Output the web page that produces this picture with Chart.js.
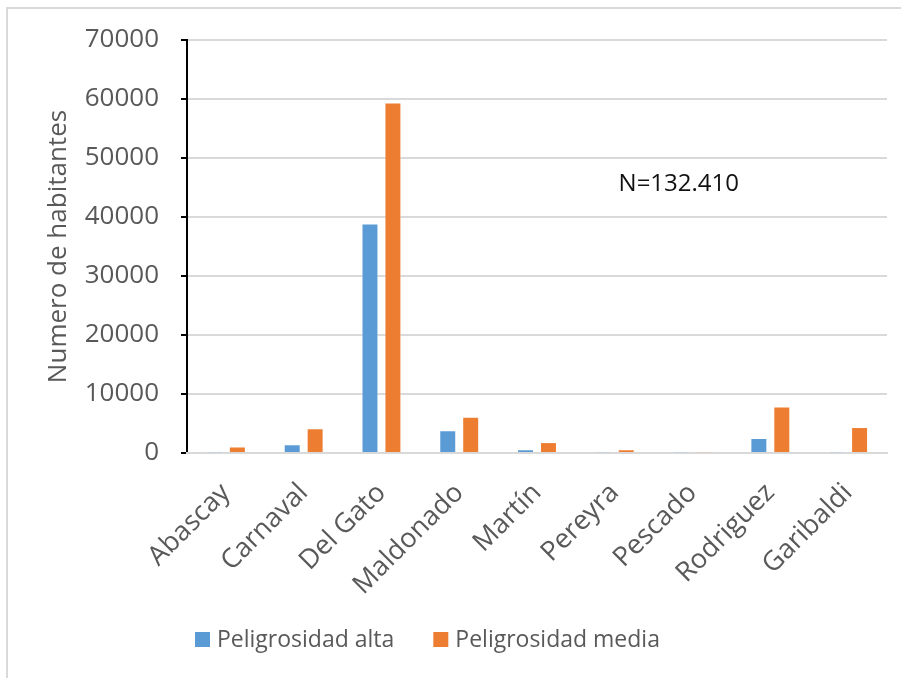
<!DOCTYPE html>
<html>
<head>
<meta charset="utf-8">
<script src="https://cdn.jsdelivr.net/npm/chart.js@4/dist/chart.umd.min.js"></script>
<style>
    html, body { margin: 0; padding: 0; background: #fff; }
    #wrap { position: relative; width: 901px; height: 678px; }
    #frame { position: absolute; left: 6px; top: 7px; right: -2px; bottom: -2px; border-left: 2px solid #d9d9d9; border-top: 2px solid #d9d9d9; }
    canvas { position: absolute; left: 0; top: 0; }
</style>
</head>
<body>
<div id="wrap">
    <div id="frame"></div>
    <canvas id="barrios" width="901" height="678"></canvas>
</div>
<script>
const barrios = ['Abascay', 'Carnaval', 'Del Gato', 'Maldonado', 'Martín', 'Pereyra', 'Pescado', 'Rodriguez', 'Garibaldi'];
const peligrosidadAlta = [60, 1500, 38900, 3850, 630, 70, 50, 2550, 60];
const peligrosidadMedia = [1100, 4200, 59400, 6150, 1850, 630, 50, 7900, 4400];
const yTicks = [0, 10000, 20000, 30000, 40000, 50000, 60000, 70000];
const nota = 'N=132.410';

const fontName = '"Open Sans", sans-serif';
const gris = '#595959';

// texto N=... dentro del area del grafico
const notaPlugin = {
    id: 'nota',
    afterDraw(chart) {
        const ctx = chart.ctx;
        const x = chart.scales.x.getPixelForValue(5) + 64;
        const y = chart.scales.y.getPixelForValue(45600);
        ctx.save();
        ctx.font = '24px ' + fontName;
        ctx.fillStyle = '#111';
        ctx.textAlign = 'center';
        ctx.textBaseline = 'middle';
        ctx.fillText(nota, x, y);
        ctx.restore();
    }
};

// leyenda abajo, como en Excel (cajas chicas y bastante espacio entre items)
const leyendaPlugin = {
    id: 'leyenda',
    afterDraw(chart) {
        const ctx = chart.ctx;
        let x = 195;
        const y = 640;
        ctx.save();
        ctx.font = '23px ' + fontName;
        ctx.textBaseline = 'middle';
        chart.data.datasets.forEach(ds => {
            ctx.fillStyle = ds.backgroundColor;
            ctx.fillRect(x, y - 8, 15, 15);
            x += 22;
            ctx.fillStyle = gris;
            ctx.fillText(ds.label, x, y);
            x += ctx.measureText(ds.label).width + 39;
        });
        ctx.restore();
    }
};

new Chart(document.getElementById('barrios').getContext('2d'), {
    type: 'bar',
    data: {
        labels: barrios,
        datasets: [
            {
                label: 'Peligrosidad alta',
                data: peligrosidadAlta,
                backgroundColor: '#5B9BD5',
                borderColor: 'rgba(255,255,255,0.5)',
                borderWidth: 1,
                categoryPercentage: 0.59,
                barPercentage: 0.74
            },
            {
                label: 'Peligrosidad media',
                data: peligrosidadMedia,
                backgroundColor: '#ED7D31',
                borderColor: 'rgba(255,255,255,0.5)',
                borderWidth: 1,
                categoryPercentage: 0.59,
                barPercentage: 0.74
            }
        ]
    },
    options: {
        responsive: false,
        animation: false,
        layout: {
            padding: { left: 43, right: 14, top: 40, bottom: 62 }
        },
        plugins: {
            tooltip: { enabled: false },
            legend: { display: false }
        },
        scales: {
            y: {
                min: 0,
                max: 70000,
                afterBuildTicks: scale => { scale.ticks = yTicks.map(v => ({ value: v })); },
                afterFit: scale => { scale.width = 144; },
                ticks: {
                    color: gris,
                    font: { family: fontName, size: 26 },
                    padding: 22,
                    callback: v => String(v)
                },
                title: {
                    display: true,
                    text: 'Numero de habitantes',
                    color: gris,
                    font: { family: fontName, size: 26 },
                    padding: 0
                },
                grid: {
                    color: '#d9d9d9',
                    lineWidth: 2,
                    tickColor: '#000',
                    tickLength: 6
                },
                border: { color: '#000', width: 2 }
            },
            x: {
                afterFit: scale => { scale.height = 163; },
                ticks: {
                    color: gris,
                    font: { family: fontName, size: 27 },
                    minRotation: 45,
                    maxRotation: 45,
                    padding: 16
                },
                grid: { display: false },
                border: { color: '#d9d9d9', width: 2 }
            }
        }
    },
    plugins: [notaPlugin, leyendaPlugin]
});
</script>
</body>
</html>
